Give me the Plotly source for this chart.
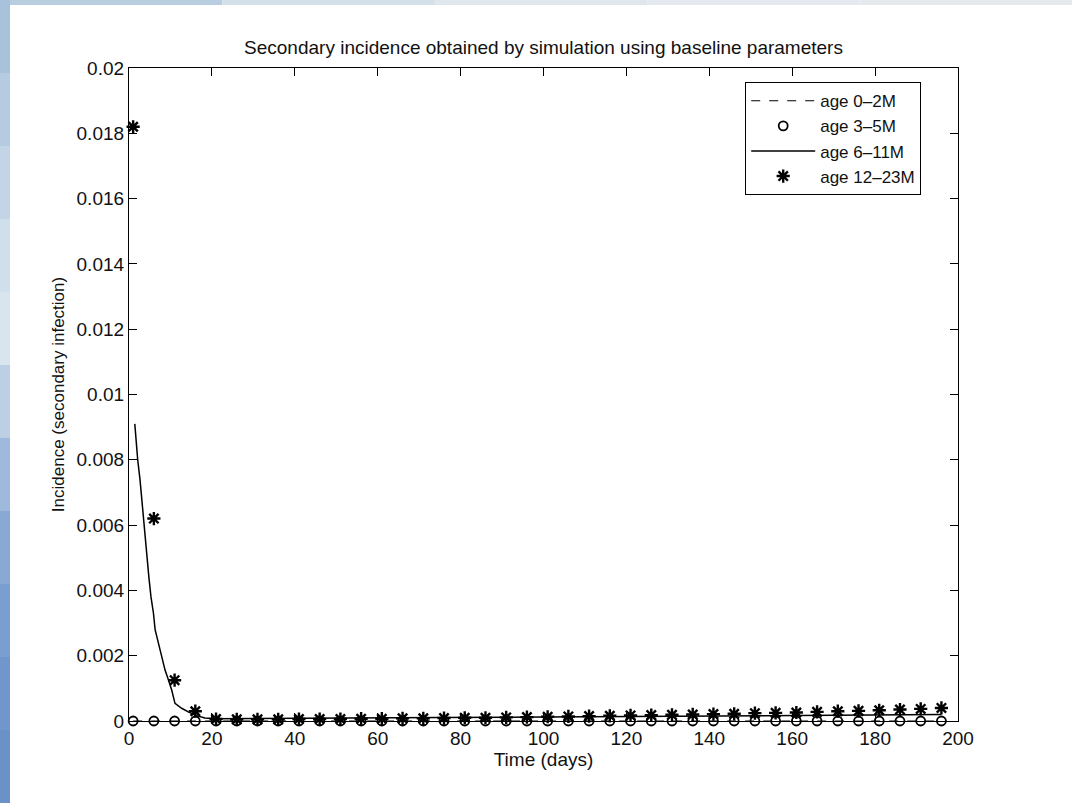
import plotly.graph_objects as go

# ---- data ----
days = [1, 6, 11, 16, 21, 26, 31, 36, 41, 46, 51, 56, 61, 66, 71, 76, 81, 86, 91, 96,
        101, 106, 111, 116, 121, 126, 131, 136, 141, 146, 151, 156, 161, 166, 171, 176, 181, 186, 191, 196]

age_0_2 = [0.0] * 40
age_3_5 = [0.0] * 40

age_12_23 = [0.0182, 0.0062, 0.00125, 0.0003, 0.00006, 0.00005, 0.00005, 0.00005, 0.00006, 0.00006,
             0.00006, 0.00007, 0.00007, 0.00008, 0.00008, 0.00009, 0.0001, 0.0001, 0.00011, 0.00012,
             0.00013, 0.00014, 0.00015, 0.00016, 0.00017, 0.00018, 0.00019, 0.0002, 0.00021, 0.00022,
             0.00024, 0.00025, 0.00026, 0.00028, 0.0003, 0.00031, 0.00033, 0.00035, 0.00037, 0.0004]

t_6_11 = [1.4, 1.7, 2.1, 2.65, 3.05, 3.45, 3.9, 4.3, 4.8, 5.3, 5.9, 6.3, 7.1, 7.9, 8.7, 9.5,
          10.3, 11.1, 12.7, 14.3, 15.9, 18.3, 21, 30, 50, 75, 100, 125, 150, 175, 196]
age_6_11 = [0.0091, 0.0085, 0.0080, 0.0074, 0.0068, 0.0063, 0.0056, 0.0050, 0.0044, 0.0038,
            0.0033, 0.0028, 0.0024, 0.0020, 0.00156, 0.00126, 0.00095, 0.00054, 0.00039, 0.00028,
            0.00018, 0.00009, 0.00007, 0.00008, 0.0001, 0.00011, 0.00012, 0.00014, 0.00016, 0.00018, 0.0002]

x_ticks = [0, 20, 40, 60, 80, 100, 120, 140, 160, 180, 200]
y_ticks = [0, 0.002, 0.004, 0.006, 0.008, 0.01, 0.012, 0.014, 0.016, 0.018, 0.02]
y_tick_text = ["0", "0.002", "0.004", "0.006", "0.008", "0.01", "0.012", "0.014", "0.016", "0.018", "0.02"]

W, H = 1072, 803
L, R, T, B = 129, 114, 68, 82
PW, PH = W - L - R, H - T - B
FONT = "Liberation Sans, Arial, sans-serif"

fig = go.Figure()
fig.add_trace(go.Scatter(x=days, y=age_0_2, mode="lines", name="age 0\u20132M",
                         line=dict(color="black", width=1.2, dash="dash"), cliponaxis=False))
fig.add_trace(go.Scatter(x=days, y=age_3_5, mode="markers", name="age 3\u20135M",
                         marker=dict(symbol="circle-open", size=9, color="black", line=dict(width=1.8)),
                         cliponaxis=False))
fig.add_trace(go.Scatter(x=t_6_11, y=age_6_11, mode="lines", name="age 6\u201311M",
                         line=dict(color="black", width=1.5), cliponaxis=False))
fig.add_trace(go.Scatter(x=days, y=age_12_23, mode="markers", name="age 12\u201323M",
                         marker=dict(symbol="asterisk-open", size=11, color="black", line=dict(width=2.4)),
                         cliponaxis=False))

# background frame (blue gradient strips at left and top)
left_cols = ["#a8c2dc", "#b4cbe1", "#c2d4e6", "#d0dfec", "#d8e4ee", "#bccfe4", "#9fb9dc",
             "#89a9d4", "#7b9ed0", "#7196cc", "#6b91c9"]
n = len(left_cols)
shapes = []
for i, c in enumerate(left_cols):
    y1 = 1 + T / PH - i * (H / PH) / n
    y0 = 1 + T / PH - (i + 1) * (H / PH) / n
    shapes.append(dict(type="rect", xref="paper", yref="paper", layer="below",
                       x0=-L / PW, x1=(10 - L) / PW, y0=y0, y1=y1,
                       fillcolor=c, line=dict(width=0)))
top_cols = ["#b9cde0", "#d3dfe9", "#dfe6ec", "#e3e9ee", "#e5eaee"]
m = len(top_cols)
for i, c in enumerate(top_cols):
    x0 = (10 - L) / PW + i * ((W - 10) / PW) / m
    x1 = (10 - L) / PW + (i + 1) * ((W - 10) / PW) / m
    shapes.append(dict(type="rect", xref="paper", yref="paper", layer="below",
                       x0=x0, x1=x1, y0=1 + (T - 5) / PH, y1=1 + T / PH,
                       fillcolor=c, line=dict(width=0)))

axis_common = dict(showline=True, linecolor="black", linewidth=1.2, mirror="ticks",
                   ticks="inside", ticklen=8, tickcolor="black", tickwidth=1.2,
                   showgrid=False, zeroline=False,
                   tickfont=dict(family=FONT, size=19, color="#111"))

fig.update_layout(
    width=W, height=H,
    margin=dict(l=L, r=R, t=T, b=B, autoexpand=False),
    paper_bgcolor="white", plot_bgcolor="white",
    shapes=shapes,
    title=dict(text="Secondary incidence obtained by simulation using baseline parameters",
               x=0.5, xref="paper", y=1 - 47 / H, yref="container", yanchor="middle",
               font=dict(family=FONT, size=19, color="#111")),
    xaxis=dict(range=[0, 200], tickvals=x_ticks,
               title=dict(text="Time (days)", standoff=0, font=dict(family=FONT, size=19, color="#111")),
               **axis_common),
    yaxis=dict(range=[0, 0.02], tickvals=y_ticks, ticktext=y_tick_text,
               title=dict(text="Incidence (secondary infection)", standoff=7,
                          font=dict(family=FONT, size=17, color="#111")),
               **axis_common),
    legend=dict(x=(745 - L) / PW, y=(H - B - 82) / PH, xanchor="left", yanchor="top",
                bordercolor="black", borderwidth=1.2, bgcolor="white",
                font=dict(family=FONT, size=17, color="#111"), itemwidth=64,
                entrywidth=110, entrywidthmode="pixels",
                tracegroupgap=0),
    showlegend=True,
)

fig.write_html("out.html")
